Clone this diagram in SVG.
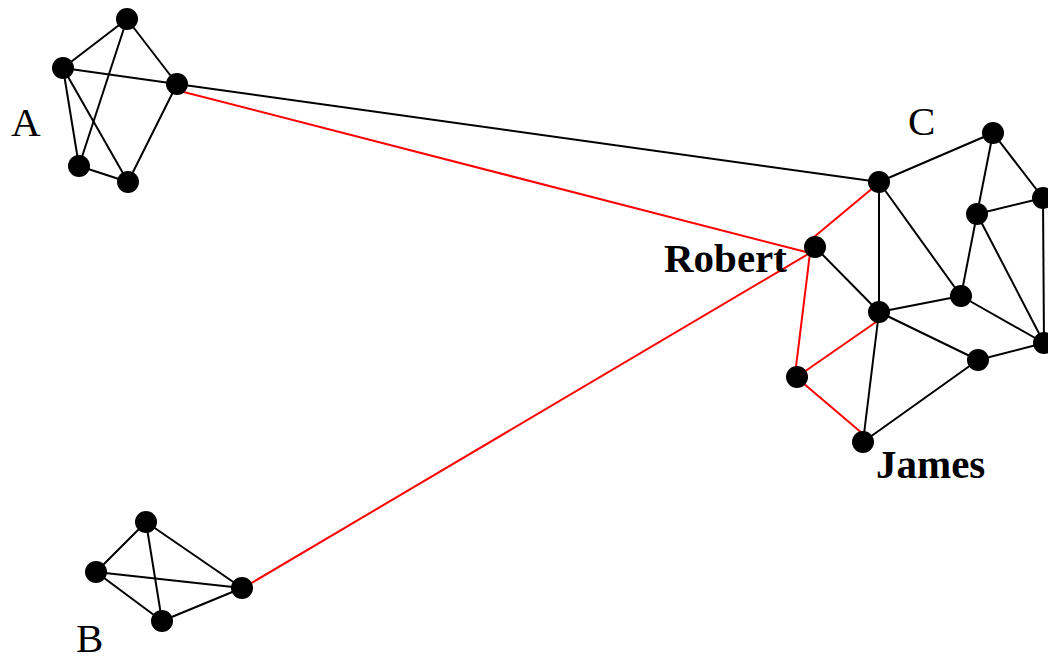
<svg xmlns="http://www.w3.org/2000/svg" width="1048" height="657" viewBox="0 0 1048 657">
<style>
.e{stroke:#000;stroke-width:2;fill:none}
.r{stroke:#ff0000;stroke-width:2;fill:none}
.n{fill:#000}
.lbl{font-family:"Liberation Serif",serif;font-size:41px;fill:#000}
.b{font-weight:bold}
</style>
<rect width="1048" height="657" fill="#fff"/>
<g id="connectors">
<line class="e" x1="127" y1="19" x2="63" y2="68"/>
<line class="e" x1="127" y1="19" x2="177" y2="84"/>
<line class="e" x1="127" y1="19" x2="79" y2="166"/>
<line class="e" x1="63" y1="68" x2="177" y2="84"/>
<line class="e" x1="63" y1="68" x2="79" y2="166"/>
<line class="e" x1="63" y1="68" x2="128" y2="182"/>
<line class="e" x1="177" y1="84" x2="128" y2="182"/>
<line class="e" x1="79" y1="166" x2="128" y2="182"/>
<line class="e" x1="177" y1="84" x2="879" y2="182"/>
<line class="e" x1="146" y1="522" x2="96" y2="572"/>
<line class="e" x1="146" y1="522" x2="242" y2="588"/>
<line class="e" x1="146" y1="522" x2="162" y2="621"/>
<line class="e" x1="96" y1="572" x2="242" y2="588"/>
<line class="e" x1="96" y1="572" x2="162" y2="621"/>
<line class="e" x1="162" y1="621" x2="242" y2="588"/>
<line class="e" x1="879" y1="182" x2="993" y2="133"/>
<line class="e" x1="879" y1="182" x2="879" y2="312"/>
<line class="e" x1="879" y1="182" x2="961" y2="296"/>
<line class="e" x1="815" y1="247" x2="879" y2="312"/>
<line class="e" x1="993" y1="133" x2="977" y2="214"/>
<line class="e" x1="993" y1="133" x2="1043" y2="198"/>
<line class="e" x1="977" y1="214" x2="1043" y2="198"/>
<line class="e" x1="977" y1="214" x2="961" y2="296"/>
<line class="e" x1="977" y1="214" x2="1044" y2="343"/>
<line class="e" x1="1043" y1="198" x2="1044" y2="343"/>
<line class="e" x1="879" y1="312" x2="961" y2="296"/>
<line class="e" x1="879" y1="312" x2="978" y2="360"/>
<line class="e" x1="978" y1="360" x2="1044" y2="343"/>
<line class="e" x1="961" y1="296" x2="1044" y2="343"/>
<line class="e" x1="879" y1="312" x2="863" y2="442"/>
<line class="e" x1="978" y1="360" x2="863" y2="442"/>
<line class="r" x1="172" y1="89" x2="810" y2="253"/>
<line class="r" x1="243" y1="588" x2="810" y2="253"/>
<line class="r" x1="874" y1="187" x2="808" y2="242"/>
<line class="r" x1="810" y1="253" x2="794" y2="383"/>
<line class="r" x1="879" y1="320" x2="804" y2="372"/>
<line class="r" x1="803" y1="383" x2="863" y2="434"/>
</g>
<g id="A"><circle class="n" cx="127" cy="19" r="11"/><circle class="n" cx="63" cy="68" r="11"/><circle class="n" cx="177" cy="84" r="11"/><circle class="n" cx="79" cy="166" r="11"/><circle class="n" cx="128" cy="182" r="11"/><text class="lbl" x="11" y="136">A</text></g>
<g id="B"><circle class="n" cx="146" cy="522" r="11"/><circle class="n" cx="96" cy="572" r="11"/><circle class="n" cx="242" cy="588" r="11"/><circle class="n" cx="162" cy="621" r="11"/><text class="lbl" x="76" y="652">B</text></g>
<g id="C"><circle class="n" cx="879" cy="182" r="11"/><circle class="n" cx="993" cy="133" r="11"/><circle class="n" cx="1043" cy="198" r="11"/><circle class="n" cx="977" cy="214" r="11"/><circle class="n" cx="961" cy="296" r="11"/><circle class="n" cx="879" cy="312" r="11"/><circle class="n" cx="1044" cy="343" r="11"/><circle class="n" cx="978" cy="360" r="11"/><text class="lbl" x="908" y="135">C</text></g>
<g id="Robert"><circle class="n" cx="815" cy="247" r="11"/><text class="lbl b" x="664" y="272">Robert</text></g>
<g id="node-c10"><circle class="n" cx="797" cy="377" r="11"/></g>
<g id="James"><circle class="n" cx="863" cy="442" r="11"/><text class="lbl b" x="876" y="478">James</text></g>
</svg>
